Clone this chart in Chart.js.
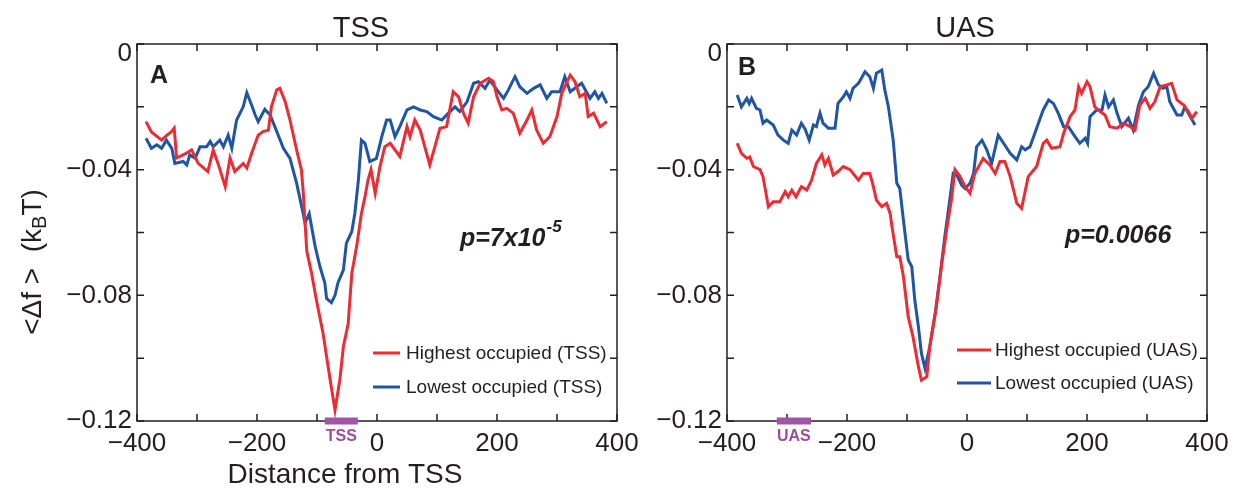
<!DOCTYPE html>
<html>
<head>
<meta charset="utf-8">
<script src="https://cdn.jsdelivr.net/npm/chart.js@4.4.1/dist/chart.umd.min.js"></script>
<style>
  body { margin: 0; background: #fff; }
  canvas { position: absolute; top: 0; }
  #chartA { left: 0; }
  #chartB { left: 622px; }
</style>
</head>
<body>
<canvas id="chartA" width="650" height="492"></canvas>
<canvas id="chartB" width="622" height="492"></canvas>
<script>
// Values (x = distance, y = <delta f> in kBT)
const tssHighX = [-385,-376,-359,-350,-343,-338,-334,-320,-309,-298,-282,-273,-265,-253,-245,-237,-223,-217,-209,-198,-190,-181,-176,-167,-162,-153,-145,-134,-126,-123,-117,-109,-101,-90,-78,-70,-62,-56,-48,-42,-34,-26,-20,-15,-10,-3,5,13,22,38,50,55,63,72,88,105,116,127,136,144,152,161,172,186,194,200,208,216,227,238,250,258,266,277,288,300,308,322,330,338,347,352,361,372,383];
const tssHighY = [-0.0247,-0.028,-0.0306,-0.029,-0.028,-0.0268,-0.0363,-0.035,-0.0337,-0.038,-0.0406,-0.0337,-0.038,-0.0454,-0.0363,-0.0406,-0.038,-0.0395,-0.0348,-0.029,-0.0279,-0.0274,-0.020,-0.0146,-0.0141,-0.0184,-0.0242,-0.0337,-0.040,-0.047,-0.066,-0.073,-0.0815,-0.092,-0.107,-0.1165,-0.107,-0.0963,-0.089,-0.073,-0.0645,-0.054,-0.0486,-0.0433,-0.040,-0.0475,-0.039,-0.0327,-0.0316,-0.0358,-0.0263,-0.0295,-0.0242,-0.0274,-0.0385,-0.0268,-0.0263,-0.0152,-0.0168,-0.022,-0.0252,-0.0168,-0.0125,-0.0109,-0.012,-0.0168,-0.021,-0.0205,-0.022,-0.0284,-0.0242,-0.021,-0.0274,-0.0316,-0.0295,-0.0231,-0.0157,-0.0099,-0.012,-0.0168,-0.0157,-0.0231,-0.022,-0.0263,-0.0247];

const tssLowX = [-385,-376,-367,-359,-351,-342,-337,-323,-317,-312,-303,-295,-284,-278,-273,-262,-256,-248,-242,-234,-223,-217,-209,-203,-198,-187,-178,-167,-156,-145,-134,-123,-120,-113,-103,-95,-87,-84,-76,-70,-65,-56,-51,-42,-37,-31,-26,-20,-12,-1,8,16,22,30,38,50,61,72,83,94,108,119,130,138,150,161,169,180,188,200,211,219,230,238,250,261,272,283,291,305,313,322,333,341,355,363,369,375,383];
const tssLowY = [-0.030,-0.0332,-0.0321,-0.0332,-0.0306,-0.0332,-0.038,-0.0374,-0.0385,-0.0353,-0.0364,-0.0327,-0.0327,-0.031,-0.0327,-0.0306,-0.0327,-0.029,-0.0332,-0.0242,-0.020,-0.0155,-0.0194,-0.0226,-0.0247,-0.0208,-0.0226,-0.0279,-0.0332,-0.0364,-0.0443,-0.054,-0.057,-0.054,-0.0645,-0.0709,-0.076,-0.081,-0.0823,-0.080,-0.076,-0.0719,-0.0634,-0.0597,-0.054,-0.0433,-0.0306,-0.0316,-0.0374,-0.0364,-0.0295,-0.0242,-0.0242,-0.0295,-0.0263,-0.021,-0.020,-0.021,-0.0215,-0.0231,-0.0242,-0.022,-0.020,-0.0215,-0.0184,-0.0125,-0.012,-0.0141,-0.0115,-0.0146,-0.0173,-0.0146,-0.0104,-0.0136,-0.0157,-0.0141,-0.013,-0.0173,-0.0152,-0.0152,-0.0104,-0.0152,-0.0136,-0.0125,-0.0173,-0.0152,-0.0173,-0.0157,-0.0189];

const uasHighX = [-383,-376,-367,-362,-356,-345,-340,-331,-323,-312,-303,-298,-292,-285,-276,-267,-259,-251,-242,-237,-231,-223,-215,-206,-195,-181,-173,-162,-156,-151,-142,-134,-128,-126,-117,-112,-106,-98,-90,-81,-76,-67,-62,-51,-42,-34,-26,-20,-12,-3,5,13,27,38,47,55,63,72,83,91,102,116,127,133,141,155,161,172,180,186,191,200,205,213,222,230,238,250,261,272,280,288,297,305,313,322,333,341,350,361,369,375,383];
const uasHighY = [-0.0316,-0.0348,-0.0364,-0.036,-0.039,-0.040,-0.0422,-0.0518,-0.0502,-0.0502,-0.047,-0.0486,-0.0465,-0.0486,-0.0454,-0.0465,-0.0433,-0.038,-0.0353,-0.0385,-0.0364,-0.0417,-0.0406,-0.039,-0.040,-0.0433,-0.0412,-0.0412,-0.0454,-0.0497,-0.0518,-0.0507,-0.054,-0.057,-0.0677,-0.0677,-0.074,-0.0868,-0.0932,-0.1027,-0.107,-0.1059,-0.0963,-0.0836,-0.0698,-0.0592,-0.0497,-0.040,-0.042,-0.0454,-0.0475,-0.0412,-0.0364,-0.0385,-0.0412,-0.0374,-0.0374,-0.0422,-0.0507,-0.0523,-0.0422,-0.039,-0.0316,-0.0306,-0.0332,-0.0327,-0.0284,-0.0231,-0.021,-0.0136,-0.0157,-0.012,-0.0136,-0.020,-0.0215,-0.0226,-0.0263,-0.0268,-0.0252,-0.0263,-0.0274,-0.0194,-0.0173,-0.0205,-0.0184,-0.0136,-0.013,-0.0125,-0.0178,-0.0194,-0.0215,-0.0236,-0.0215];

const uasLowX = [-383,-376,-367,-363,-359,-351,-345,-340,-334,-323,-315,-306,-298,-292,-284,-276,-270,-263,-256,-251,-245,-240,-231,-220,-215,-206,-201,-195,-190,-181,-176,-170,-162,-156,-151,-142,-137,-131,-123,-117,-112,-106,-98,-92,-87,-81,-76,-70,-62,-53,-45,-37,-28,-23,-17,-9,-3,5,11,16,25,33,41,52,61,72,83,91,97,105,119,127,136,144,152,161,169,180,188,197,201,205,216,225,230,236,244,250,258,269,277,286,294,302,311,319,327,333,338,350,358,363,372,380];
const uasLowY = [-0.0162,-0.020,-0.0173,-0.019,-0.0173,-0.0205,-0.021,-0.0252,-0.0242,-0.0258,-0.029,-0.0306,-0.0316,-0.0274,-0.029,-0.0252,-0.027,-0.0306,-0.0258,-0.0263,-0.022,-0.0252,-0.0268,-0.0268,-0.0189,-0.0168,-0.0152,-0.0173,-0.0141,-0.0125,-0.0109,-0.0088,-0.0104,-0.0141,-0.0093,-0.0083,-0.0146,-0.020,-0.0306,-0.0443,-0.046,-0.056,-0.0687,-0.0709,-0.0815,-0.090,-0.0984,-0.1032,-0.0963,-0.0857,-0.074,-0.0613,-0.0486,-0.0412,-0.0417,-0.0449,-0.046,-0.0443,-0.0412,-0.0327,-0.0306,-0.0337,-0.038,-0.029,-0.0316,-0.0348,-0.0369,-0.0327,-0.0337,-0.0327,-0.0252,-0.021,-0.0178,-0.0189,-0.022,-0.0263,-0.0263,-0.0295,-0.0316,-0.030,-0.0316,-0.0231,-0.021,-0.021,-0.0162,-0.020,-0.0178,-0.022,-0.0263,-0.0236,-0.0274,-0.0194,-0.0152,-0.0136,-0.0093,-0.013,-0.0141,-0.0136,-0.0184,-0.0226,-0.0226,-0.020,-0.0231,-0.0258];

// axis ranges and marked regions
const xRange = [-400, 400];
const yRange = [-0.12, 0];
const tssRegion = [-87, -32];
const uasRegion = [-317, -260];

const RED = '#ee2a33';
const BLUE = '#1f55a5';
const INK = '#231f20';
const PURPLE = '#a056a6';
const FAM = '"Liberation Sans", Arial, Helvetica, sans-serif';

Chart.defaults.font.family = FAM;
Chart.defaults.color = INK;

function series(xs, ys) {
    return xs.map((v, i) => ({ x: v, y: ys[i] }));
}

function minus(s) {
    return s.replace('-', '\u2212');
}

// box, inward ticks and all the annotation text
const decor = {
    id: 'decor',
    afterDraw(chart, args, o) {
        const { ctx, chartArea: a, scales: { x, y } } = chart;
        ctx.save();
        ctx.strokeStyle = INK;
        ctx.fillStyle = INK;
        ctx.lineWidth = 1.5;
        ctx.strokeRect(a.left, a.top, a.right - a.left, a.bottom - a.top);

        ctx.beginPath();
        for (let v = xRange[0]; v <= xRange[1]; v += 100) {
            const px = x.getPixelForValue(v);
            ctx.moveTo(px, a.bottom); ctx.lineTo(px, a.bottom - 7);
            ctx.moveTo(px, a.top); ctx.lineTo(px, a.top + 7);
        }
        for (let k = 0; k <= 6; k++) {
            const py = y.getPixelForValue(-0.02 * k);
            ctx.moveTo(a.left, py); ctx.lineTo(a.left + 7, py);
            ctx.moveTo(a.right, py); ctx.lineTo(a.right - 7, py);
        }
        ctx.stroke();

        // the top "0" label sits a little below its tick, as in the figure
        ctx.font = '26px ' + FAM;
        ctx.textAlign = 'right';
        ctx.textBaseline = 'middle';
        ctx.fillText('0', a.left - 5, y.getPixelForValue(0) + 10);

        // panel title
        ctx.font = '29px ' + FAM;
        ctx.textAlign = 'center';
        ctx.textBaseline = 'alphabetic';
        ctx.fillText(o.title, a.left + o.titleDx, a.top - 7);

        // panel letter
        ctx.textAlign = 'left';
        ctx.font = 'bold 25px ' + FAM;
        ctx.fillText(o.letter, a.left + o.letterPos[0], a.top + o.letterPos[1]);

        // p value
        ctx.font = 'italic bold 25px ' + FAM;
        const px0 = a.left + o.pPos[0], py0 = a.top + o.pPos[1];
        ctx.fillText(o.pText, px0, py0);
        if (o.pSup) {
            const w = ctx.measureText(o.pText).width;
            ctx.font = 'italic bold 17px ' + FAM;
            ctx.fillText(o.pSup, px0 + w + 1, py0 - 14);
        }

        // legend
        ctx.font = '19px ' + FAM;
        ctx.textBaseline = 'middle';
        chart.data.datasets.forEach((ds, i) => {
            const ly = a.top + o.legend.y[i];
            ctx.strokeStyle = ds.borderColor;
            ctx.lineWidth = 3;
            ctx.beginPath();
            ctx.moveTo(a.left + o.legend.x0, ly);
            ctx.lineTo(a.left + o.legend.x1, ly);
            ctx.stroke();
            ctx.fillStyle = INK;
            ctx.fillText(ds.label, a.left + o.legend.tx, ly + 1);
        });

        // marked region on the x axis
        const r0 = x.getPixelForValue(o.region[0]);
        const r1 = x.getPixelForValue(o.region[1]);
        ctx.fillStyle = PURPLE;
        ctx.fillRect(r0, a.bottom - 3.5, r1 - r0, 7);
        ctx.font = 'bold 16px ' + FAM;
        ctx.textAlign = 'center';
        ctx.textBaseline = 'alphabetic';
        ctx.fillStyle = '#9b4c9c';
        ctx.fillText(o.regionLabel, (r0 + r1) / 2, a.bottom + 20);

        // axis titles only on the left panel
        if (o.axisTitles) {
            ctx.fillStyle = INK;
            ctx.font = '28px ' + FAM;
            ctx.textAlign = 'center';
            ctx.fillText('Distance from TSS', 345, 483);

            ctx.save();
            ctx.translate(41, 262);
            ctx.rotate(-Math.PI / 2);
            ctx.textAlign = 'left';
            const big = '28px ' + FAM, small = '20px ' + FAM;
            const p1 = '<\u0394f >  (k', p2 = 'B', p3 = 'T)';
            ctx.font = big; const w1 = ctx.measureText(p1).width, w3 = ctx.measureText(p3).width;
            ctx.font = small; const w2 = ctx.measureText(p2).width;
            let cx = -(w1 + w2 + w3) / 2;
            ctx.font = big; ctx.fillText(p1, cx, 0); cx += w1;
            ctx.font = small; ctx.fillText(p2, cx, 5); cx += w2;
            ctx.font = big; ctx.fillText(p3, cx, 0);
            ctx.restore();
        }
        ctx.restore();
    }
};

function makeChart(id, high, low, labels, leftWidth, rightPad, decorOpts) {
    return new Chart(document.getElementById(id), {
        type: 'line',
        data: {
            datasets: [
                { label: labels[0], data: high, borderColor: RED, borderWidth: 3, pointRadius: 0, tension: 0, fill: false },
                { label: labels[1], data: low, borderColor: BLUE, borderWidth: 3, pointRadius: 0, tension: 0, fill: false }
            ]
        },
        options: {
            responsive: false,
            animation: false,
            layout: { padding: { top: 44, right: rightPad, left: 0, bottom: 0 } },
            plugins: {
                legend: { display: false },
                tooltip: { enabled: false },
                decor: decorOpts
            },
            scales: {
                x: {
                    type: 'linear',
                    min: xRange[0], max: xRange[1],
                    grid: { display: false, drawTicks: false },
                    border: { display: false },
                    ticks: {
                        stepSize: 100,
                        autoSkip: false,
                        maxRotation: 0,
                        padding: 7,
                        color: INK,
                        font: { size: 26 },
                        callback: v => (v % 200 === 0 ? minus(String(v)) : '')
                    },
                    afterFit: s => { s.height = 71; s.paddingLeft = 0; s.paddingRight = 0; }
                },
                y: {
                    min: yRange[0], max: yRange[1],
                    grid: { display: false, drawTicks: false },
                    border: { display: false },
                    ticks: {
                        stepSize: 0.02,
                        autoSkip: false,
                        padding: 5,
                        color: INK,
                        font: { size: 26 },
                        callback: v => {
                            const k = Math.round(v * 100);
                            if (k % 4 !== 0 || k === 0) return '';
                            return minus((k / 100).toFixed(2));
                        }
                    },
                    afterFit: s => { s.width = leftWidth; s.paddingTop = 0; s.paddingBottom = 0; }
                }
            }
        },
        plugins: [decor]
    });
}

makeChart('chartA', series(tssHighX, tssHighY), series(tssLowX, tssLowY),
    ['Highest occupied (TSS)', 'Lowest occupied (TSS)'], 137, 33, {
        title: 'TSS', titleDx: 224, letter: 'A', letterPos: [13, 39],
        pText: 'p=7x10', pSup: '-5', pPos: [323, 202],
        legend: { x0: 236, x1: 263, tx: 269, y: [309, 343] },
        region: tssRegion, regionLabel: 'TSS', axisTitles: true
    });

makeChart('chartB', series(uasHighX, uasHighY), series(uasLowX, uasLowY),
    ['Highest occupied (UAS)', 'Lowest occupied (UAS)'], 105, 37, {
        title: 'UAS', titleDx: 238, letter: 'B', letterPos: [11, 31],
        pText: 'p=0.0066', pSup: '', pPos: [338, 199],
        legend: { x0: 230, x1: 264, tx: 268, y: [306, 339] },
        region: uasRegion, regionLabel: 'UAS', axisTitles: false
    });
</script>
</body>
</html>
